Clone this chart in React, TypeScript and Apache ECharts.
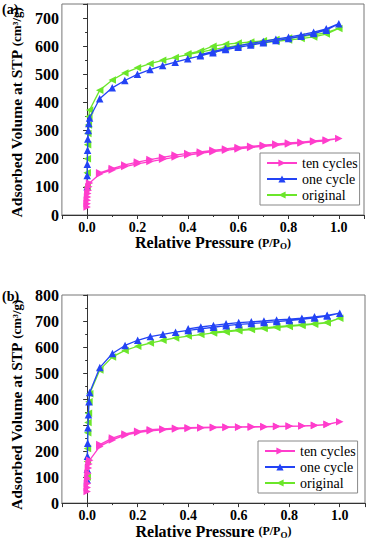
import React, { useEffect, useRef } from 'react';
import * as echarts from 'echarts';

// Relative pressure (P/P0) grids
const lowP = [0.0002, 0.0005, 0.001, 0.002, 0.003, 0.005, 0.007, 0.01];
const highP = [0.05, 0.1, 0.15, 0.2, 0.25, 0.3, 0.35, 0.4, 0.45, 0.5, 0.55, 0.6, 0.65, 0.7, 0.75, 0.8, 0.85, 0.9, 0.95, 1.0];
const desP = [0.95, 0.9, 0.85, 0.8, 0.75, 0.7, 0.65, 0.6, 0.55, 0.5, 0.45, 0.4, 0.35, 0.3, 0.25, 0.2, 0.15, 0.1, 0.05];

// Panel (a): adsorption then desorption branches
const aTenAds = [28, 40, 52, 64, 76, 88, 100, 114, 146, 160, 172, 182, 190, 198, 206, 213, 219, 225, 230, 235, 240, 244, 248, 252, 256, 260, 264, 272];
const aTenDes = [267, 263, 259, 256, 252, 248, 244, 240, 235, 230, 224, 219, 213, 205, 197, 188, 178, 165, 150];
const aOneAds = [100, 140, 180, 230, 270, 300, 325, 345, 413, 452, 478, 500, 517, 531, 543, 555, 566, 577, 588, 596, 604, 612, 620, 627, 635, 645, 657, 680];
const aOneDes = [662, 650, 640, 632, 625, 617, 610, 601, 592, 581, 570];
const aOrigAds = [100, 150, 200, 250, 290, 320, 350, 373, 443, 480, 505, 523, 538, 550, 560, 570, 579, 588, 596, 603, 608, 613, 617, 622, 627, 633, 643, 663];
const aOrigDes = [648, 640, 634, 629, 624, 619, 615, 611, 607, 600, 583, 573];

// Panel (b)
const bTenAds = [45, 60, 75, 95, 115, 135, 150, 165, 218, 243, 261, 271, 278, 282, 285, 287, 289, 290, 291, 292, 292, 293, 294, 295, 296, 298, 302, 313];
const bTenDes = [303, 299, 297, 296, 295, 294, 294, 293, 293, 292, 291, 290, 288, 285, 282, 276, 266, 250, 225];
const bOneAds = [90, 130, 180, 230, 290, 340, 390, 425, 521, 575, 606, 626, 640, 649, 657, 664, 670, 676, 682, 687, 690, 694, 698, 702, 706, 712, 719, 730];
const bOneDes = [722, 716, 711, 707, 704, 700, 697, 694, 689, 683, 677, 670];
const bOrigAds = [100, 160, 210, 270, 310, 345, 390, 420, 512, 562, 587, 603, 615, 626, 635, 642, 648, 654, 658, 663, 667, 671, 675, 679, 683, 688, 693, 711];
const bOrigDes = [695, 690, 686, 682, 678, 674, 670, 666, 661, 657];

const names = ['ten cycles', 'one cycle', 'original'];
const xTicks = [0, 0.2, 0.4, 0.6, 0.8, 1.0];

const adsP = [...lowP, ...highP];
const pts = (ads: number[], des: number[]) => [
  ...ads.map((v, i) => [adsP[i], v]),
  ...des.map((v, i) => [desP[i], v]),
];

const FONT = "'Liberation Serif', serif";
const COLORS = ['#ff3dcc', '#2343f5', '#6be62a'];
const ROT = [-90, 0, 90];

export default function App() {
  const ref = useRef<HTMLDivElement>(null);
  useEffect(() => {
    if (!ref.current) return;
    const chart = echarts.init(ref.current, undefined, { renderer: 'svg' });

    const panels = [
      { data: [pts(aTenAds, aTenDes), pts(aOneAds, aOneDes), pts(aOrigAds, aOrigDes)], max: 750 },
      { data: [pts(bTenAds, bTenDes), pts(bOneAds, bOneDes), pts(bOrigAds, bOrigDes)], max: 800 },
    ];

    const xAxis = [0, 1].map((g) => ({
      type: 'value',
      gridIndex: g,
      min: -0.1,
      max: 1.1,
      splitNumber: 6,
      splitLine: { show: false },
      axisLine: { show: true, onZero: false, lineStyle: { color: '#333', width: 1 } },
      axisTick: { show: true, length: 4, lineStyle: { color: '#333' } },
      minorTick: { show: true, splitNumber: 2, length: 2, lineStyle: { color: '#333' } },
      axisLabel: {
        margin: 5,
        fontFamily: FONT,
        fontWeight: 'bold',
        fontSize: 14,
        color: '#000',
        formatter: (v: number) => (xTicks.some((t) => Math.abs(t - v) < 1e-6) ? v.toFixed(1) : ''),
      },
      name: 'Relative Pressure {s|(P/P}{sub|O}{s|)}',
      nameLocation: 'middle',
      nameGap: 17,
      nameTextStyle: {
        fontFamily: FONT,
        fontWeight: 'bold',
        fontSize: 16,
        color: '#000',
        rich: {
          s: { fontFamily: FONT, fontWeight: 'bold', fontSize: 12, color: '#000' },
          sub: { fontFamily: FONT, fontWeight: 'bold', fontSize: 9, color: '#000', verticalAlign: 'bottom', padding: [6, 0, 0, 0] },
        },
      },
    }));

    const yAxis = [0, 1].map((g) => ({
      type: 'value',
      gridIndex: g,
      min: 0,
      max: panels[g].max,
      interval: 100,
      splitLine: { show: false },
      axisLine: { show: true, lineStyle: { color: '#333', width: 1 } },
      axisTick: { show: true, length: 4, lineStyle: { color: '#333' } },
      minorTick: { show: true, splitNumber: 2, length: 2, lineStyle: { color: '#333' } },
      axisLabel: {
        margin: 3,
        fontFamily: FONT,
        fontWeight: 'bold',
        fontSize: 16,
        color: '#000',
        formatter: (v: number) => (v % 100 === 0 ? String(v) : ''),
      },
      name: 'Adsorbed Volume at STP {s|(cm³/g)}',
      nameLocation: 'middle',
      nameGap: g === 0 ? 33 : 31,
      nameTextStyle: {
        fontFamily: FONT,
        fontWeight: 'bold',
        fontSize: 15.5,
        color: '#000',
        padding: g === 0 ? [0, 6, 0, 0] : [0, 12, 0, 0],
        rich: { s: { fontFamily: FONT, fontWeight: 'bold', fontSize: 13, color: '#000' } },
      },
    }));

    const series: any[] = [];
    panels.forEach((p, g) => {
      p.data.forEach((d, k) => {
        series.push({
          type: 'line',
          name: names[k],
          xAxisIndex: g,
          yAxisIndex: g,
          data: d,
          symbol: 'triangle',
          symbolSize: 7.5,
          symbolRotate: ROT[k],
          color: COLORS[k],
          lineStyle: { width: 1.3, color: COLORS[k] },
          itemStyle: { color: COLORS[k] },
          z: 3 - k,
        });
      });
    });

    const legendBase = {
      orient: 'vertical',
      data: names,
      itemWidth: 30,
      itemHeight: 9,
      itemGap: 2,
      padding: [3, 2, 3, 6],
      borderColor: '#888',
      borderWidth: 1,
      textStyle: { fontFamily: FONT, fontSize: 14, color: '#000' },
    };

    chart.setOption({
      animation: false,
      backgroundColor: '#fff',
      grid: [
        { left: 57, top: 4, width: 307, height: 211, show: true, borderColor: '#777', borderWidth: 1 },
        { left: 53, top: 295, width: 312, height: 210, show: true, borderColor: '#777', borderWidth: 1 },
      ],
      xAxis,
      yAxis,
      series,
      legend: [
        { ...legendBase, left: 260, top: 153 },
        { ...legendBase, left: 258, top: 441 },
      ],
      graphic: [
        { type: 'text', left: 2, top: 2, style: { text: '(a)', font: `bold 14px ${FONT}`, fill: '#000' } },
        { type: 'text', left: 2, top: 289, style: { text: '(b)', font: `bold 14px ${FONT}`, fill: '#000' } },
      ],
    });

    return () => chart.dispose();
  }, []);

  return <div ref={ref} style={{ position: 'absolute', left: 0, top: 0, width: 368, height: 540 }} />;
}
